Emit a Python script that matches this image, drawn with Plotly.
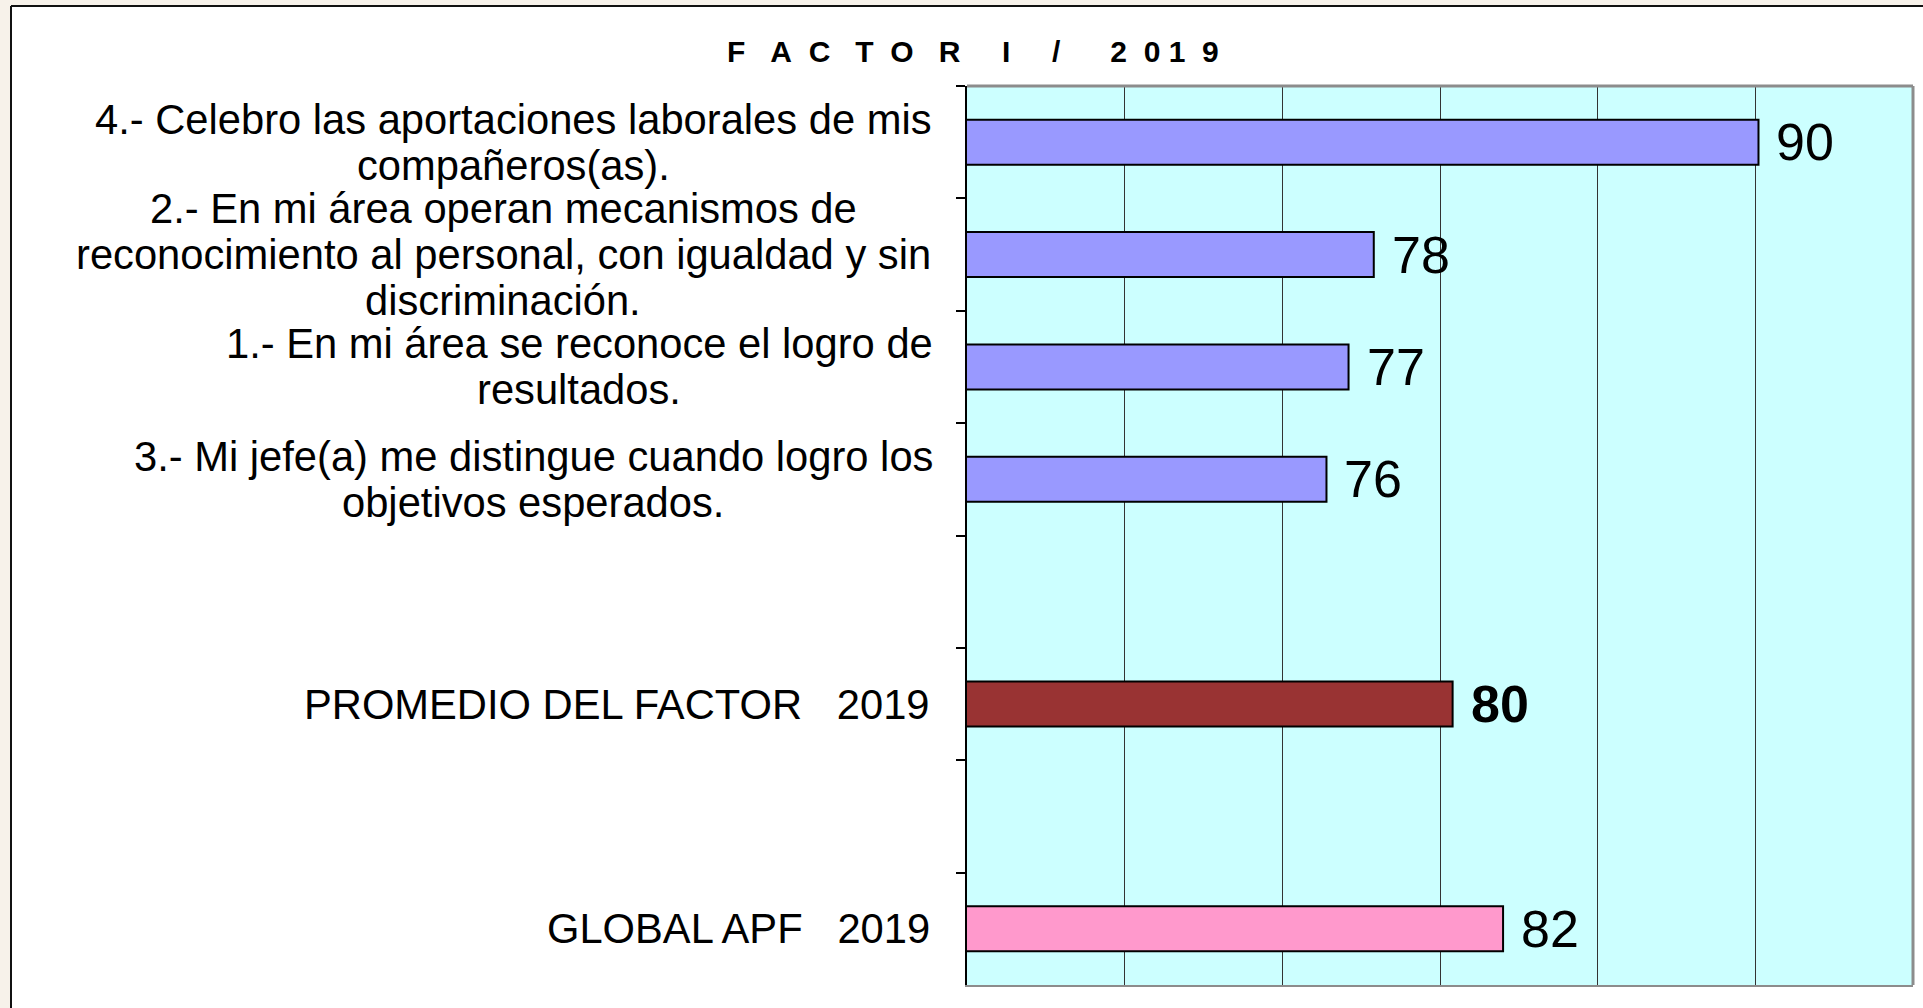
import plotly.graph_objects as go

# ---------------- data ----------------
categories = ["q4", "q2", "q1", "q3", "blank1", "promedio", "blank2", "global"]
values = [90.1, 77.9, 77.1, 76.4, None, 80.4, None, 82.0]
value_labels = ["90", "78", "77", "76", "", "80", "", "82"]
label_lines = [
    ["4.- Celebro las aportaciones laborales de mis", "compañeros(as)."],
    ["2.- En mi área operan mecanismos de", "reconocimiento al personal, con igualdad y sin", "discriminación."],
    ["1.- En mi área se reconoce el logro de", "resultados."],
    ["3.- Mi jefe(a) me distingue cuando logro los", "objetivos esperados."],
    [],
    ["PROMEDIO DEL FACTOR&nbsp;&nbsp;&nbsp;2019"],
    [],
    ["GLOBAL APF&nbsp;&nbsp;&nbsp;2019"],
]
title_chars = ["F", "A", "C", "T", "O", "R", "I", "/", "2", "0", "1", "9"]
title_gaps = [3, 2, 3, 2, 3, 5, 5, 6, 2, 1, 2]
x_min, x_max, x_step = 65, 95, 5

# ---------------- styles ----------------
bar_colors = ["#9999FF", "#9999FF", "#9999FF", "#9999FF", "#9999FF", "#993333", "#9999FF", "#FF99CC"]
label_bold = [False, False, False, False, False, True, False, False]
label_center_px = [513, 503, 579, 533, None, None, None, None]
label_right_px = 932

W, H = 1923, 1008
ML, MR, MT, MB = 967, 10, 86, 23
PW = W - ML - MR
PH = H - MT - MB
FONT = "Liberation Sans, Arial, sans-serif"
LABEL_SIZE = 41.7
LINE_SP = 46

title_text = title_chars[0]
for g, ch in zip(title_gaps, title_chars[1:]):
    title_text += "&nbsp;" * g + ch

fig = go.Figure()
fig.add_trace(go.Bar(
    y=categories, x=values, orientation="h",
    marker=dict(color=bar_colors, line=dict(color="black", width=2)),
    showlegend=False, hoverinfo="skip",
))

annotations = []
for cat, lines, cpx in zip(categories, label_lines, label_center_px):
    n = len(lines)
    for i, line in enumerate(lines):
        shift = LINE_SP * ((n - 1) / 2 - i)
        if cpx is not None:
            ax, anchor = (cpx - ML) / PW, "center"
        else:
            ax, anchor = (label_right_px - ML) / PW, "right"
        annotations.append(dict(
            x=ax, xref="paper", xanchor=anchor,
            y=cat, yref="y", yanchor="middle", yshift=shift,
            text=line, showarrow=False,
            font=dict(family=FONT, size=LABEL_SIZE, color="black")))

for cat, v, lab, b in zip(categories, values, value_labels, label_bold):
    if v is None:
        continue
    annotations.append(dict(
        x=v, xref="x", xanchor="left", xshift=16,
        y=cat, yref="y", yanchor="middle",
        text=f"<b>{lab}</b>" if b else lab, showarrow=False,
        font=dict(family=FONT, size=52, color="black")))

annotations.append(dict(
    x=(973 - ML) / PW, xref="paper", y=(H - MB - 52) / PH, yref="paper",
    xanchor="center", yanchor="middle", text=f"<b>{title_text}</b>", showarrow=False,
    font=dict(family=FONT, size=30, color="black")))

shapes = [
    dict(type="rect", xref="paper", yref="paper",
         x0=-ML / PW - 0.01, x1=(11 - ML) / PW, y0=-MB / PH - 0.01, y1=(H - MB) / PH + 0.01,
         fillcolor="#F7F2EA", line=dict(width=0), layer="below"),
    dict(type="rect", xref="paper", yref="paper",
         x0=-ML / PW - 0.01, x1=(W - ML) / PW + 0.01, y0=(H - MB - 6) / PH, y1=(H - MB) / PH + 0.01,
         fillcolor="#F7F2EA", line=dict(width=0), layer="below"),
    dict(type="line", xref="paper", yref="paper",
         x0=(11 - ML) / PW, x1=(11 - ML) / PW, y0=-MB / PH - 0.01, y1=(H - MB - 6) / PH,
         line=dict(color="#111111", width=2)),
    dict(type="line", xref="paper", yref="paper",
         x0=(11 - ML) / PW, x1=(W - ML) / PW + 0.01, y0=(H - MB - 6) / PH, y1=(H - MB - 6) / PH,
         line=dict(color="#111111", width=2)),
    dict(type="line", xref="paper", yref="paper", x0=1, x1=1, y0=0, y1=1,
         line=dict(color="#8C8C8C", width=3)),
    dict(type="line", xref="paper", yref="paper", x0=0, x1=1, y0=1, y1=1,
         line=dict(color="#8C8C8C", width=3)),
]

fig.update_layout(
    width=W, height=H,
    margin=dict(l=ML, r=MR, t=MT, b=MB, pad=0),
    paper_bgcolor="white", plot_bgcolor="#CCFFFF",
    bargap=0.6,
    xaxis=dict(range=[x_min, x_max], dtick=x_step, tick0=x_min,
               showgrid=True, gridcolor="#333333", gridwidth=1,
               showticklabels=False, ticks="", zeroline=False,
               showline=True, linecolor="#8C8C8C", linewidth=2),
    yaxis=dict(type="category", categoryorder="array", categoryarray=categories,
               range=[len(categories) - 0.5, -0.5],
               showticklabels=False, showgrid=False, zeroline=False,
               ticks="outside", tickson="boundaries", ticklen=9, tickwidth=2, tickcolor="black",
               showline=True, linecolor="black", linewidth=2),
    annotations=annotations,
    shapes=shapes,
)

fig.write_html("out.html", config={"displayModeBar": False},
               post_script="document.body.style.margin='0px';document.body.style.overflow='hidden';")
